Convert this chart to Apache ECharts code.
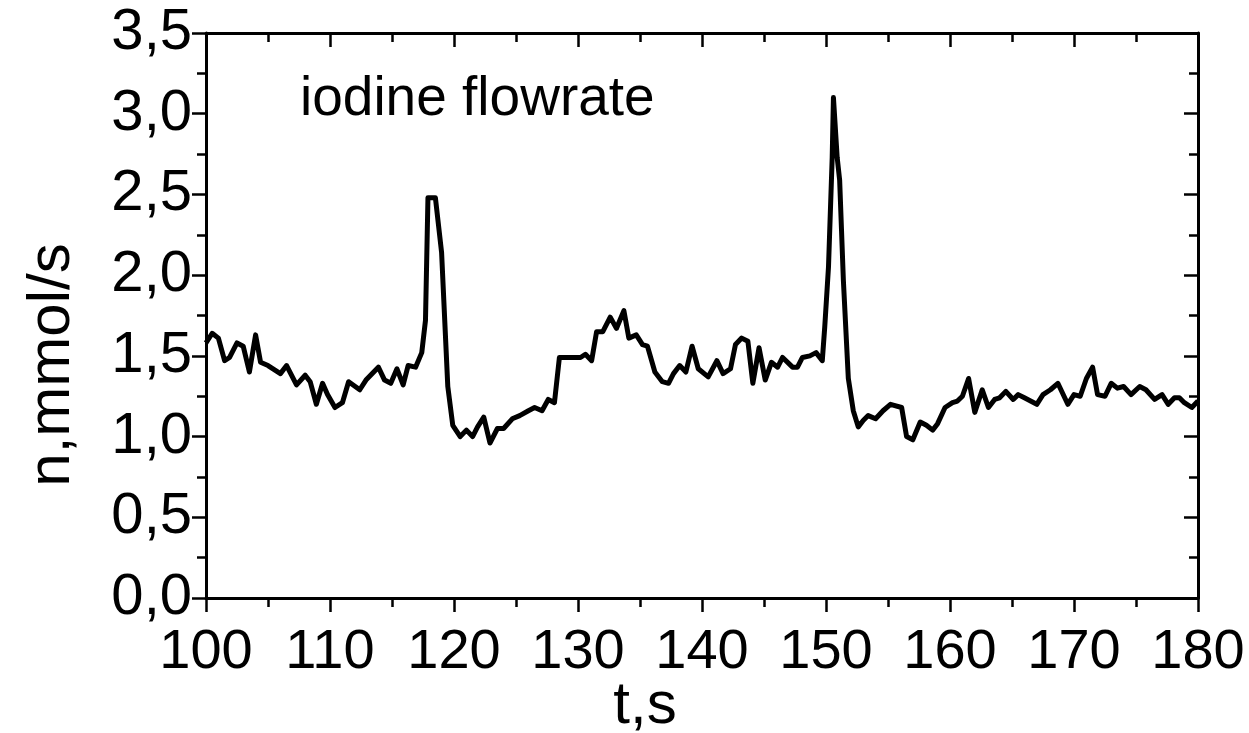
<!DOCTYPE html>
<html>
<head>
<meta charset="utf-8">
<script src="https://cdn.jsdelivr.net/npm/echarts@6/dist/echarts.min.js"></script>
<style>
  html, body { margin: 0; padding: 0; background: #fff; }
  #chartmain { width: 1249px; height: 733px; }
</style>
</head>
<body>
<div id="chartmain"></div>
<script>
// time, s
const times = [100.0, 100.5, 101.0, 101.5, 101.9, 102.5, 103.0, 103.5, 104.0, 104.4, 105.0, 106.0, 106.5, 107.3, 108.0, 108.4, 108.9, 109.4, 109.8, 110.4,
    111.0, 111.5, 112.4, 112.9, 113.9, 114.4, 114.9, 115.4, 115.9, 116.3, 116.9, 117.4, 117.7, 117.9, 118.5, 119.0, 119.5, 119.9, 120.5, 121.0,
    121.5, 121.9, 122.4, 122.9, 123.5, 124.0, 124.7, 125.3, 126.0, 126.5, 127.1, 127.6, 128.1, 128.5, 129.4, 130.2, 130.6, 131.1, 131.5, 132.0,
    132.6, 133.1, 133.7, 134.1, 134.7, 135.2, 135.6, 136.2, 136.8, 137.3, 137.7, 138.2, 138.7, 139.2, 139.7, 140.5, 141.2, 141.7, 142.3, 142.7,
    143.2, 143.7, 144.1, 144.6, 145.1, 145.6, 146.1, 146.5, 147.3, 147.7, 148.1, 148.7, 149.2, 149.7, 149.9, 150.2, 150.5, 150.6, 150.9, 151.1,
    151.4, 151.8, 152.2, 152.6, 153.0, 153.4, 154.0, 154.6, 155.2, 156.1, 156.5, 157.0, 157.6, 158.1, 158.6, 159.0, 159.6, 160.2, 160.6, 161.0,
    161.5, 162.0, 162.6, 163.1, 163.6, 164.0, 164.5, 165.1, 165.5, 166.0, 167.0, 167.5, 168.1, 168.7, 169.5, 170.0, 170.5, 171.0, 171.5, 171.9,
    172.5, 173.0, 173.5, 174.0, 174.6, 175.3, 175.8, 176.5, 177.1, 177.6, 178.1, 178.5, 178.9, 179.5, 180.0];
// iodine flowrate, mmol/s
const flow = [1.58, 1.64, 1.61, 1.47, 1.49, 1.58, 1.56, 1.40, 1.63, 1.46, 1.44, 1.39, 1.44, 1.32, 1.38, 1.34, 1.20, 1.33, 1.26, 1.18,
    1.21, 1.34, 1.29, 1.35, 1.43, 1.35, 1.33, 1.42, 1.32, 1.44, 1.43, 1.52, 1.72, 2.48, 2.48, 2.14, 1.31, 1.07, 1.00, 1.04,
    1.00, 1.06, 1.12, 0.96, 1.05, 1.05, 1.11, 1.13, 1.16, 1.18, 1.16, 1.23, 1.21, 1.49, 1.49, 1.49, 1.51, 1.47, 1.65, 1.65,
    1.74, 1.67, 1.78, 1.61, 1.63, 1.57, 1.56, 1.40, 1.34, 1.33, 1.39, 1.44, 1.40, 1.56, 1.42, 1.37, 1.47, 1.39, 1.42, 1.57,
    1.61, 1.59, 1.33, 1.55, 1.35, 1.46, 1.43, 1.49, 1.43, 1.43, 1.49, 1.50, 1.52, 1.47, 1.68, 2.05, 2.73, 3.10, 2.73, 2.59,
    1.97, 1.36, 1.16, 1.06, 1.10, 1.13, 1.11, 1.16, 1.20, 1.18, 1.00, 0.98, 1.09, 1.07, 1.04, 1.08, 1.18, 1.21, 1.22, 1.25,
    1.36, 1.15, 1.29, 1.18, 1.23, 1.24, 1.28, 1.23, 1.26, 1.24, 1.20, 1.26, 1.29, 1.33, 1.20, 1.26, 1.25, 1.36, 1.43, 1.26,
    1.25, 1.33, 1.30, 1.31, 1.26, 1.31, 1.29, 1.23, 1.26, 1.20, 1.24, 1.24, 1.21, 1.18, 1.22];

const chart = echarts.init(document.getElementById('chartmain'));

const FONT = "'Liberation Sans', Arial, sans-serif";
const axisLine = { show: true, onZero: false, lineStyle: { color: '#000', width: 3 } };

const option = {
    backgroundColor: '#fff',
    animation: false,
    grid: { left: 206, right: 51, top: 33, bottom: 135 },
    xAxis: [
        {
            type: 'value', min: 100, max: 180, interval: 10, position: 'bottom',
            axisLine: axisLine,
            axisTick: { show: true, inside: false, length: 14, lineStyle: { color: '#000', width: 2.5 } },
            minorTick: { show: true, splitNumber: 2, length: 9, lineStyle: { color: '#000', width: 2.5 } },
            axisLabel: { color: '#000', fontFamily: FONT, fontSize: 56, margin: 27 },
            splitLine: { show: false }
        },
        {
            type: 'value', min: 100, max: 180, interval: 10, position: 'top',
            axisLine: axisLine,
            axisTick: { show: true, inside: true, length: 14, lineStyle: { color: '#000', width: 2.5 } },
            minorTick: { show: true, splitNumber: 2, length: 9, lineStyle: { color: '#000', width: 2.5 } },
            axisLabel: { show: false },
            splitLine: { show: false }
        }
    ],
    yAxis: [
        {
            type: 'value', min: 0, max: 3.5, interval: 0.5, position: 'left',
            axisLine: axisLine,
            axisTick: { show: true, inside: false, length: 14, lineStyle: { color: '#000', width: 2.5 } },
            minorTick: { show: true, splitNumber: 2, length: 9, lineStyle: { color: '#000', width: 2.5 } },
            axisLabel: {
                color: '#000', fontFamily: FONT, fontSize: 58, margin: 14,
                formatter: v => v.toFixed(1).replace('.', ',')
            },
            splitLine: { show: false }
        },
        {
            type: 'value', min: 0, max: 3.5, interval: 0.5, position: 'right',
            axisLine: axisLine,
            axisTick: { show: true, inside: true, length: 14, lineStyle: { color: '#000', width: 2.5 } },
            minorTick: { show: true, splitNumber: 2, length: 9, lineStyle: { color: '#000', width: 2.5 } },
            axisLabel: { show: false },
            splitLine: { show: false }
        }
    ],
    graphic: [
        {
            type: 'text', left: 300, top: 72,
            style: { text: 'iodine flowrate', font: '55px ' + FONT, fill: '#000' }
        },
        {
            type: 'text', x: 645, y: 706,
            style: { text: 't,s', font: '60px ' + FONT, fill: '#000', align: 'center', verticalAlign: 'middle' }
        },
        {
            type: 'text', x: 52, y: 365, rotation: Math.PI / 2,
            style: { text: 'n,mmol/s', font: '60px ' + FONT, fill: '#000', align: 'center', verticalAlign: 'middle' }
        }
    ],
    series: [
        {
            type: 'line',
            data: times.map((t, i) => [t, flow[i]]),
            showSymbol: false,
            symbol: 'none',
            lineStyle: { color: '#000', width: 5, join: 'round' }
        }
    ]
};

chart.setOption(option);
window.addEventListener('resize', function () {
    chart.resize();
});
</script>
</body>
</html>
